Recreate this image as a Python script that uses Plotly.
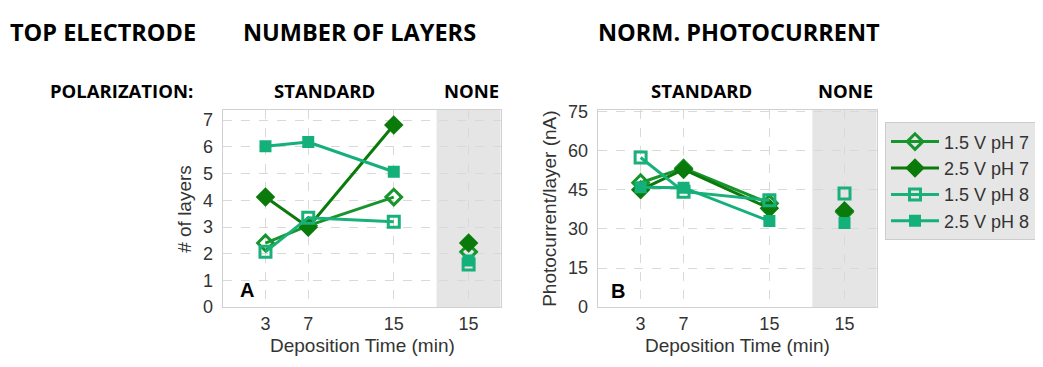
import plotly.graph_objects as go

# page offset: the html body has an 8px margin, so the figure is drawn at (8, 8)
OFF = 8
W, H = 1043 - OFF, 367 - OFF

# ---------------- data ----------------
times = [3, 7, 15]
none_pos = 22          # axis position used for the "NONE" (no polarization) group
tick_vals = [3, 7, 15, 22]
tick_text = ["3", "7", "15", "15"]

series_names = ["1.5 V pH 7", "2.5 V pH 7", "1.5 V pH 8", "2.5 V pH 8"]

layers_std = {
    "1.5 V pH 7": [2.40, 3.05, 4.12],
    "2.5 V pH 7": [4.12, 2.99, 6.82],
    "1.5 V pH 8": [2.07, 3.35, 3.20],
    "2.5 V pH 8": [6.02, 6.18, 5.07],
}
layers_none = {
    "1.5 V pH 7": 2.07,
    "2.5 V pH 7": 2.40,
    "1.5 V pH 8": 1.60,
    "2.5 V pH 8": 1.75,
}
photo_std = {
    "1.5 V pH 7": [47.7, 53.3, 39.8],
    "2.5 V pH 7": [45.0, 52.8, 37.9],
    "1.5 V pH 8": [57.4, 44.3, 41.0],
    "2.5 V pH 8": [46.0, 45.8, 33.0],
}
photo_none = {
    "1.5 V pH 7": 36.5,
    "2.5 V pH 7": 37.0,
    "1.5 V pH 8": 43.6,
    "2.5 V pH 8": 32.3,
}

styles = {
    "1.5 V pH 7": dict(color="#18942c", symbol="diamond-open", size=12),
    "2.5 V pH 7": dict(color="#0a7a0a", symbol="diamond", size=15),
    "1.5 V pH 8": dict(color="#1ab07a", symbol="square-open", size=11),
    "2.5 V pH 8": dict(color="#14b07a", symbol="square", size=12),
}

fig = go.Figure()

def add_series(xa, ya, std, none, showlegend):
    for name in series_names:
        st = styles[name]
        xs = times + [None, none_pos]
        ys = std[name] + [None, none[name]]
        fig.add_trace(go.Scatter(
            x=xs, y=ys, mode="lines+markers", name=name,
            xaxis=xa, yaxis=ya, connectgaps=False,
            legendgroup=name, showlegend=showlegend,
            line=dict(color=st["color"], width=3),
            marker=dict(symbol=st["symbol"], size=st["size"], color=st["color"],
                        line=dict(width=3 if "open" in st["symbol"] else 0, color=st["color"])),
        ))

add_series("x", "y", layers_std, layers_none, True)
add_series("x2", "y2", photo_std, photo_none, False)

def px_x(p):
    return (p - OFF) / W

def px_y(p):
    return 1 - (p - OFF) / H

dom_y = [px_y(314.5), px_y(107.0)]
axis_font = dict(family="Liberation Sans, Arial, sans-serif", size=18, color="#333333")

common_x = dict(range=[-1, 25], tickvals=tick_vals, ticktext=tick_text,
                showgrid=True, gridcolor="#d9d9d9", griddash="dash", gridwidth=1,
                showline=True, mirror=True, linecolor="#d0d0d0", linewidth=1,
                zeroline=False, ticks="", tickfont=axis_font, fixedrange=True)
common_y = dict(showgrid=True, gridcolor="#d9d9d9", griddash="dash", gridwidth=1,
                showline=True, mirror=True, linecolor="#d0d0d0", linewidth=1,
                zeroline=False, ticks="", tickfont=axis_font, fixedrange=True,
                ticklabelstandoff=5)

fig.update_layout(
    width=W, height=H,
    margin=dict(l=0, r=0, t=0, b=0),
    paper_bgcolor="white", plot_bgcolor="white",
    xaxis=dict(domain=[px_x(222.7), px_x(500.7)], anchor="y", **common_x),
    yaxis=dict(domain=dom_y, anchor="x", range=[0, 7.38], dtick=1, **common_y),
    xaxis2=dict(domain=[px_x(597.7), px_x(876.7)], anchor="y2", **common_x),
    yaxis2=dict(domain=dom_y, anchor="x2", range=[0, 75.6], dtick=15, **common_y),
    showlegend=True,
    legend=dict(x=px_x(885), y=px_y(120), xanchor="left", yanchor="top",
                bgcolor="#e6e6e6", bordercolor="#cccccc", borderwidth=1,
                itemwidth=48,
                font=dict(family="Liberation Sans, Arial, sans-serif", size=18, color="#333333"),
                tracegroupgap=0),
)

# shaded "NONE" regions
for xr, yr in (("x", "y domain"), ("x2", "y2 domain")):
    fig.add_shape(type="rect", xref=xr, yref=yr, x0=19, x1=25, y0=0, y1=1,
                  fillcolor="#e5e5e5", line=dict(width=0), layer="below")

head_font = dict(family="Open Sans, sans-serif", size=23.5, color="black")
sub_font = dict(family="Open Sans, sans-serif", size=18.5, color="black")
title_font = dict(family="Liberation Sans, Arial, sans-serif", size=19, color="#333333")

def ann(text, x, y, font, xanchor="left", angle=0):
    fig.add_annotation(text=text, x=px_x(x), y=px_y(y), xref="paper", yref="paper",
                       xanchor=xanchor, yanchor="middle", showarrow=False,
                       font=font, textangle=angle)

ann("<b>TOP ELECTRODE</b>", 8, 25, head_font)
ann("<b>NUMBER OF LAYERS</b>", 241, 25, head_font)
ann("<b>NORM. PHOTOCURRENT</b>", 596, 25, head_font)
ann("<b>POLARIZATION:</b>", 48, 86, sub_font)
ann("<b>STANDARD</b>", 324, 86, sub_font, xanchor="center")
ann("<b>NONE</b>", 471, 86, sub_font, xanchor="center")
ann("<b>STANDARD</b>", 701, 86, sub_font, xanchor="center")
ann("<b>NONE</b>", 845, 86, sub_font, xanchor="center")

ann("# of layers", 185, 211, title_font, xanchor="center", angle=-90)
ann("Photocurrent/layer (nA)", 550, 211, title_font, xanchor="center", angle=-90)
ann("Deposition Time (min)", 362, 355, title_font, xanchor="center")
ann("Deposition Time (min)", 737, 355, title_font, xanchor="center")

letter_font = dict(family="Liberation Sans, Arial, sans-serif", size=20, color="black")
ann("<b>A</b>", 247, 296, letter_font, xanchor="center")
ann("<b>B</b>", 618, 297, letter_font, xanchor="center")

fig.write_html("out.html")
